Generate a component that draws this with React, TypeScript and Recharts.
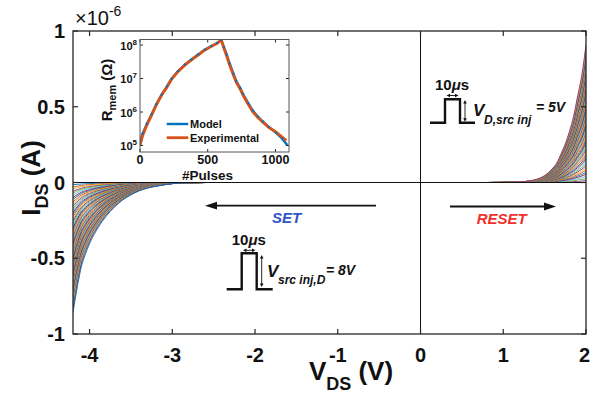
import React from "react";
import { LineChart, Line, XAxis, YAxis, ReferenceLine } from "recharts";

const FONT = "'Liberation Sans', Arial, Helvetica, sans-serif";
const AXIS = "#262626";
const MATLAB = ["#0072BD", "#D95319", "#EDB120", "#7E2F8E", "#77AC30", "#4DBEEE", "#A2142F"];

// main panel, current in units of 1e-6 A
const setVoltage = [-4.2, -4.15, -4.1, -4.05, -4.0, -3.9, -3.8, -3.7, -3.6, -3.5, -3.4, -3.3, -3.2, -3.1, -3.0, -2.9, -2.8, -2.6, -2.3, 0];
const setShape = [1, 0.81, 0.65, 0.55, 0.47, 0.35, 0.26, 0.19, 0.135, 0.095, 0.064, 0.043, 0.029, 0.018, 0.009, 0.004, 0.0015, 0, 0, 0];
const setPeak = [
  0.015, 0.03, 0.042, 0.058, 0.07, 0.085, 0.1, 0.112, 0.128, 0.14, 0.155, 0.17, 0.182, 0.198, 0.21, 0.226,
  0.24, 0.255, 0.268, 0.283, 0.298, 0.31, 0.326, 0.34, 0.355, 0.37, 0.384, 0.4, 0.413, 0.428, 0.442, 0.458,
  0.472, 0.486, 0.5, 0.515, 0.53, 0.545, 0.558, 0.574, 0.588, 0.603, 0.618, 0.632, 0.648, 0.662, 0.678,
  0.693, 0.708, 0.724, 0.74, 0.756, 0.772, 0.79, 0.81, 0.83, 0.86,
];

const resetVoltage = [0, 0.8, 1.0, 1.1, 1.2, 1.3, 1.4, 1.5, 1.6, 1.65, 1.7, 1.75, 1.8, 1.85, 1.9, 1.95, 2.0];
const resetShape = [0, 0, 0.0005, 0.0015, 0.004, 0.01, 0.022, 0.05, 0.105, 0.144, 0.21, 0.28, 0.37, 0.48, 0.63, 0.78, 1];
const resetPeak = [
  0.012, 0.025, 0.04, 0.055, 0.068, 0.083, 0.098, 0.112, 0.127, 0.142, 0.157, 0.172, 0.188, 0.203, 0.218,
  0.234, 0.25, 0.265, 0.28, 0.296, 0.312, 0.328, 0.343, 0.36, 0.375, 0.39, 0.407, 0.422, 0.438, 0.455, 0.47,
  0.486, 0.502, 0.518, 0.535, 0.55, 0.567, 0.583, 0.6, 0.616, 0.632, 0.65, 0.666, 0.683, 0.7, 0.716, 0.733,
  0.75, 0.767, 0.784, 0.8, 0.818, 0.835, 0.852, 0.87, 0.89, 0.91,
];

const xTicks = [-4, -3, -2, -1, 0, 1, 2];
const yTicks = [-1, -0.5, 0, 0.5, 1];

// inset: memristance vs pulse number
const modelPulse = [0, 20, 50, 86, 120, 160, 200, 233, 280, 331, 380, 429, 480, 527, 570, 600, 620, 640, 662, 690, 711, 740, 760, 800, 833, 870, 907, 950, 1005, 1050, 1085];
const modelR = [1.3e5, 2.3e5, 4.4e5, 8.5e5, 1.7e6, 3.3e6, 5.9e6, 9.8e6, 1.65e7, 2.6e7, 3.7e7, 5.2e7, 7.3e7, 9.3e7, 1.15e8, 1.43e8, 8.5e7, 5.2e7, 2.8e7, 1.4e7, 8.3e6, 5.2e6, 3.5e6, 1.8e6, 1.1e6, 7.3e5, 5.2e5, 3.6e5, 2.4e5, 1.6e5, 1.05e5];
const expPulse = [0, 20, 50, 86, 120, 160, 200, 233, 280, 331, 380, 429, 480, 527, 570, 600, 620, 640, 662, 690, 711, 740, 760, 800, 833, 870, 907, 950, 1005, 1050, 1080];
const expR = [1.0e5, 2.0e5, 4.0e5, 8.1e5, 1.6e6, 3.2e6, 5.6e6, 9.5e6, 1.6e7, 2.5e7, 3.6e7, 5.0e7, 7.1e7, 9.1e7, 1.12e8, 1.41e8, 7.9e7, 4.7e7, 2.5e7, 1.26e7, 7.6e6, 4.8e6, 3.2e6, 1.66e6, 1.0e6, 6.9e5, 5.0e5, 3.5e5, 2.5e5, 1.8e5, 1.4e5];
const insetXTicks = [0, 500, 1000];
const insetYTicks = [1e5, 1e6, 1e7, 1e8];
const decade: Record<number, string> = { 100000: "5", 1000000: "6", 10000000: "7", 100000000: "8" };

const P = { left: 73, top: 31, right: 586, bottom: 334 };
const IN = { left: 50, top: 9.5, right: 199, bottom: 122 }; // inset plot, local coords

const setCurves = setPeak.map((a) => setVoltage.map((v, k) => ({ v, i: -a * setShape[k] })));
const resetCurves = resetPeak.map((a) => resetVoltage.map((v, k) => ({ v, i: a * resetShape[k] })));
const modelData = modelPulse.map((n, k) => ({ n, r: modelR[k] }));
const expData = expPulse.map((n, k) => ({ n, r: expR[k] }));

function MainXTick(props: any) {
  const { x, y, payload } = props;
  const last = payload.value === 2;
  return (
    <g>
      <line x1={x} x2={x} y1={y} y2={y - 5} stroke={AXIS} strokeWidth={1.2} />
      <line x1={x} x2={x} y1={P.top} y2={P.top + 5} stroke={AXIS} strokeWidth={1.2} />
      <text
        x={last ? x + 4 : x}
        y={y + 28}
        textAnchor={last ? "end" : "middle"}
        fontSize={20}
        fontWeight="bold"
        fontFamily={FONT}
        fill="#111"
      >
        {payload.value}
      </text>
    </g>
  );
}

function MainYTick(props: any) {
  const { x, y, payload } = props;
  return (
    <g>
      <line x1={x} x2={x + 5} y1={y} y2={y} stroke={AXIS} strokeWidth={1.2} />
      <line x1={P.right} x2={P.right - 5} y1={y} y2={y} stroke={AXIS} strokeWidth={1.2} />
      <text x={x - 8} y={y + 7} textAnchor="end" fontSize={20} fontWeight="bold" fontFamily={FONT} fill="#111">
        {payload.value}
      </text>
    </g>
  );
}

function InsetXTick(props: any) {
  const { x, y, payload } = props;
  return (
    <g>
      <line x1={x} x2={x} y1={y} y2={y - 3} stroke={AXIS} />
      <line x1={x} x2={x} y1={IN.top} y2={IN.top + 3} stroke={AXIS} />
      <text x={x} y={y + 11.5} textAnchor="middle" fontSize={12.5} fontWeight="bold" fontFamily={FONT} fill="#111">
        {payload.value}
      </text>
    </g>
  );
}

function InsetYTick(props: any) {
  const { x, y, payload } = props;
  return (
    <g>
      <line x1={x} x2={x + 3} y1={y} y2={y} stroke={AXIS} />
      <line x1={IN.right} x2={IN.right - 3} y1={y} y2={y} stroke={AXIS} />
      <text x={x - 3} y={y + 4.5} textAnchor="end" fontSize={11} fontWeight="bold" fontFamily={FONT} fill="#111">
        <tspan>10</tspan>
        <tspan fontSize={8} dy={-5}>{decade[payload.value]}</tspan>
      </text>
    </g>
  );
}

function Inset() {
  return (
    <div style={{ position: "absolute", left: 90, top: 30 }}>
      <LineChart width={205} height={155} margin={{ top: 9.5, right: 6, bottom: 13, left: 10 }}>
        <XAxis
          type="number"
          dataKey="n"
          domain={[0, 1100]}
          ticks={insetXTicks}
          interval={0}
          allowDataOverflow
          height={20}
          tickSize={0}
          tickMargin={0}
          tickLine={false}
          axisLine={false}
          tick={(p: any) => <InsetXTick {...p} />}
        />
        <YAxis
          type="number"
          dataKey="r"
          scale="log"
          domain={[64000, 146000000]}
          ticks={insetYTicks}
          interval={0}
          allowDataOverflow
          width={40}
          tickSize={0}
          tickMargin={0}
          tickLine={false}
          axisLine={false}
          tick={(p: any) => <InsetYTick {...p} />}
        />
        <Line
          data={modelData}
          dataKey="r"
          stroke="#0072BD"
          strokeWidth={2.4}
          dot={{ r: 0.9, fill: "#0072BD", stroke: "#0072BD", strokeWidth: 0.5 }}
          isAnimationActive={false}
        />
        <Line data={expData} dataKey="r" stroke="#D95319" strokeWidth={2.8} dot={false} isAnimationActive={false} />
      </LineChart>
    </div>
  );
}

function DoubleArrowH({ x1, x2, y }: { x1: number; x2: number; y: number }) {
  return (
    <g fill="#111">
      <line x1={x1 + 2} x2={x2 - 2} y1={y} y2={y} stroke="#111" strokeWidth={0.9} />
      <polygon points={`${x1},${y} ${x1 + 3.5},${y - 1.8} ${x1 + 3.5},${y + 1.8}`} />
      <polygon points={`${x2},${y} ${x2 - 3.5},${y - 1.8} ${x2 - 3.5},${y + 1.8}`} />
    </g>
  );
}

function DoubleArrowV({ x, y1, y2 }: { x: number; y1: number; y2: number }) {
  return (
    <g fill="#111">
      <line x1={x} x2={x} y1={y1 + 2} y2={y2 - 2} stroke="#111" strokeWidth={0.9} />
      <polygon points={`${x},${y1} ${x - 1.8},${y1 + 3.5} ${x + 1.8},${y1 + 3.5}`} />
      <polygon points={`${x},${y2} ${x - 1.8},${y2 - 3.5} ${x + 1.8},${y2 - 3.5}`} />
    </g>
  );
}

function Overlay() {
  const bold = { fontFamily: FONT, fontWeight: "bold" as const, fill: "#111" };
  return (
    <svg width={590} height={401} style={{ position: "absolute", left: 0, top: 0, pointerEvents: "none" }}>
      <rect x={P.left} y={P.top} width={P.right - P.left} height={P.bottom - P.top} fill="none" stroke={AXIS} strokeWidth={1.3} />
      <rect x={140} y={39.5} width={149} height={112.5} fill="none" stroke="#555" strokeWidth={1} />

      <text x={75} y={25} fontFamily={FONT} fontSize={20} fill="#111">
        <tspan>×10</tspan>
        <tspan fontSize={14} dy={-9}>-6</tspan>
      </text>

      <text transform="translate(40,178) rotate(-90)" textAnchor="middle" fontSize={26} {...bold}>
        <tspan>I</tspan>
        <tspan fontSize={18} dy={8}>DS</tspan>
        <tspan dy={-8}> (A)</tspan>
      </text>
      <text x={351} y={380} textAnchor="middle" fontSize={26} {...bold}>
        <tspan>V</tspan>
        <tspan fontSize={18} dy={10}>DS</tspan>
        <tspan dy={-10}> (V)</tspan>
      </text>

      <text transform="translate(112,90) rotate(-90)" textAnchor="middle" fontSize={15} {...bold}>
        <tspan>R</tspan>
        <tspan fontSize={11} dy={4}>mem</tspan>
        <tspan dy={-4}> (Ω)</tspan>
      </text>
      <text x={207.5} y={180} textAnchor="middle" fontSize={13.5} {...bold}>#Pulses</text>

      <line x1={166.7} x2={188.3} y1={124} y2={124} stroke="#0072BD" strokeWidth={2.4} />
      <circle cx={177.5} cy={124} r={1.2} fill="#0072BD" />
      <text x={190} y={128} fontSize={11} {...bold}>Model</text>
      <line x1={166.7} x2={188.3} y1={137.7} y2={137.7} stroke="#D95319" strokeWidth={2.8} />
      <text x={190} y={141.7} fontSize={11} {...bold}>Experimental</text>

      <line x1={215} x2={376} y1={205.7} y2={205.7} stroke="#111" strokeWidth={1.8} />
      <polygon points="205,205.7 217,201.8 217,209.6" fill="#111" />
      <text x={286.7} y={223} textAnchor="middle" fontSize={15} fontStyle="italic" fontFamily={FONT} fontWeight="bold" fill="#2F54C8">
        SET
      </text>

      <line x1={450} x2={545} y1={206.5} y2={206.5} stroke="#111" strokeWidth={1.8} />
      <polygon points="556,206.5 544,202.6 544,210.4" fill="#111" />
      <text x={501.7} y={224} textAnchor="middle" fontSize={15} fontStyle="italic" fontFamily={FONT} fontWeight="bold" fill="#F0302A">
        RESET
      </text>

      <path d="M226.7 289.3 H241.7 V253.3 H256.7 V289.3 H272.7" fill="none" stroke="#111" strokeWidth={2.4} />
      <DoubleArrowH x1={243} x2={255.5} y={250.3} />
      <DoubleArrowV x={261.7} y1={255} y2={287} />
      <text x={231.7} y={245} fontSize={15} {...bold}>
        <tspan>10</tspan>
        <tspan fontStyle="italic">μ</tspan>
        <tspan>s</tspan>
      </text>
      <text x={267} y={277} fontSize={17} fontStyle="italic" {...bold}>V</text>
      <text x={278} y={284} fontSize={12} fontStyle="italic" {...bold}>src inj,D</text>
      <text x={326} y={275} fontSize={14} fontStyle="italic" {...bold}>= 8V</text>

      <path d="M430 122.7 H445 V99.3 H460 V122.7 H475" fill="none" stroke="#111" strokeWidth={2.4} />
      <DoubleArrowH x1={446.5} x2={458.5} y={95.5} />
      <DoubleArrowV x={465} y1={100} y2={121.7} />
      <text x={435} y={90} fontSize={15} {...bold}>
        <tspan>10</tspan>
        <tspan fontStyle="italic">μ</tspan>
        <tspan>s</tspan>
      </text>
      <text x={473} y={116} fontSize={17} fontStyle="italic" {...bold}>V</text>
      <text x={484} y={124} fontSize={12} fontStyle="italic" {...bold}>D,src inj</text>
      <text x={536} y={112} fontSize={14} fontStyle="italic" {...bold}>= 5V</text>
    </svg>
  );
}

export default function App() {
  return (
    <div style={{ position: "absolute", left: 0, top: 0, width: 590, height: 401, background: "#fff" }}>
      <LineChart width={590} height={401} margin={{ top: 31, right: 4, bottom: 37, left: 13 }}>
        <XAxis
          type="number"
          dataKey="v"
          domain={[-4.2, 2]}
          ticks={xTicks}
          interval={0}
          allowDataOverflow
          height={30}
          tickSize={0}
          tickMargin={0}
          tickLine={false}
          axisLine={false}
          tick={(p: any) => <MainXTick {...p} />}
        />
        <YAxis
          type="number"
          domain={[-1, 1]}
          ticks={yTicks}
          interval={0}
          allowDataOverflow
          width={60}
          tickSize={0}
          tickMargin={0}
          tickLine={false}
          axisLine={false}
          tick={(p: any) => <MainYTick {...p} />}
        />
        {setCurves.map((d, k) => (
          <Line
            key={"s" + k}
            data={d}
            dataKey="i"
            type="monotone"
            stroke={MATLAB[k % 7]}
            strokeWidth={0.9}
            dot={false}
            isAnimationActive={false}
          />
        ))}
        {resetCurves.map((d, k) => (
          <Line
            key={"r" + k}
            data={d}
            dataKey="i"
            type="monotone"
            stroke={MATLAB[(k + 3) % 7]}
            strokeWidth={0.9}
            dot={false}
            isAnimationActive={false}
          />
        ))}
        <ReferenceLine x={0} stroke="#111" strokeWidth={1} />
        <ReferenceLine y={0} stroke="#111" strokeWidth={1.2} />
      </LineChart>
      <Inset />
      <Overlay />
    </div>
  );
}
